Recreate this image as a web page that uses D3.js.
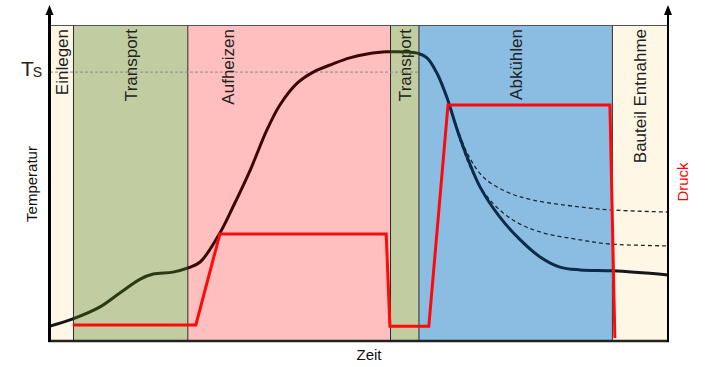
<!DOCTYPE html>
<html>
<head>
<meta charset="utf-8">
<script src="https://cdn.jsdelivr.net/npm/d3@7/dist/d3.min.js"></script>
<style>
  html, body { margin: 0; padding: 0; background: #fff; }
  svg { display: block; font-family: "Liberation Sans", Arial, sans-serif; }
</style>
</head>
<body>
<svg id="chart" width="707" height="367"></svg>
<script>
// ---------- DATA (time and values in arbitrary units 0..100) ----------
const phaseNames  = ["Einlegen", "Transport", "Aufheizen", "Transport", "Abkühlen", "Bauteil Entnahme"];
const phaseStart  = [0, 3.8, 22.3, 55.1, 59.7, 91.0];
const phaseEnd    = [3.8, 22.3, 55.1, 59.7, 91.0, 100];

const tempTime  = [0, 3.7, 8.1, 11.3, 14.6, 16.7, 19.9, 22.3, 24.3, 27.5, 29.6, 32.4, 35.1, 37.2, 40.0, 42.6, 45.8, 48.5, 51.3, 54.5, 59.4, 61.0, 62.6, 64.2, 65.9, 67.5, 69.6, 72.8, 76.1, 79.3, 82.5, 85.8, 91.1, 100];
const tempValue = [4.7, 7.0, 10.8, 15.2, 19.6, 21.2, 21.8, 23.1, 25.0, 34.2, 42.4, 54.1, 66.8, 74.7, 81.6, 85.1, 87.7, 89.6, 90.8, 91.5, 91.1, 89.6, 84.8, 77.2, 66.8, 58.2, 48.7, 39.2, 32.0, 26.6, 23.4, 22.5, 22.2, 20.9];

const altUpperTime  = [65.5, 67.5, 70.1, 73.9, 78.2, 85.8, 90.6, 100];
const altUpperValue = [69.6, 59.5, 51.9, 47.2, 44.6, 42.4, 41.5, 40.8];
const altLowerTime  = [65.9, 68.4, 71.2, 74.9, 79.3, 85.8, 90.6, 100];
const altLowerValue = [66.1, 53.2, 44.6, 38.3, 34.5, 32.0, 30.7, 30.1];

const pressTime  = [3.7, 23.6, 27.5, 54.4, 55.0, 61.3, 64.4, 90.6, 91.4];
const pressValue = [5.1, 5.1, 33.9, 33.9, 4.7, 4.7, 74.7, 74.7, 0.9];

const tsValue = 85.1;
const labels = { x: "Zeit", y: "Temperatur", y2: "Druck", ts: "T", tsSub: "S" };

// ---------- LAYOUT / STYLE ----------
const phaseFill  = ["#fff7e6", "#c1cda0", "#ffbfbf", "#c1cda0", "#8bbde3", "#fff7e6"];
const curveColor = ["#161616", "#2a3a12", "#3c0606", "#2a3a12", "#0a2b4a", "#161616"];
const labelT     = [null, null, 28.8, null, null, null]; // custom label positions
const plot = { left: 50, right: 668, top: 25, bottom: 341 };

const svg = d3.select("#chart");
const x = d3.scaleLinear().domain([0, 100]).range([plot.left, plot.right]);
const y = d3.scaleLinear().domain([0, 100]).range([plot.bottom, plot.top]);
const yP = d3.scaleLinear().domain([0, 100]).range([plot.bottom, plot.top]);

// phase bands
const phases = phaseNames.map((n, i) => ({ name: n, s: phaseStart[i], e: phaseEnd[i], i }));
svg.append("g").selectAll("rect").data(phases).join("rect")
  .attr("x", d => x(d.s)).attr("y", plot.top)
  .attr("width", d => x(d.e) - x(d.s)).attr("height", plot.bottom - plot.top)
  .attr("fill", d => phaseFill[d.i]);

// band separators
svg.append("g").selectAll("line").data(phaseStart.slice(1)).join("line")
  .attr("x1", d => x(d)).attr("x2", d => x(d))
  .attr("y1", plot.top).attr("y2", plot.bottom)
  .attr("stroke", "#2b2b2b").attr("stroke-width", 1);

// top border
svg.append("line").attr("x1", plot.left).attr("x2", plot.right)
  .attr("y1", plot.top + 0.5).attr("y2", plot.top + 0.5)
  .attr("stroke", "#555").attr("stroke-width", 1);

// Ts dashed reference line
svg.append("line").attr("x1", x(0)).attr("x2", x(phaseEnd[3]))
  .attr("y1", y(tsValue)).attr("y2", y(tsValue))
  .attr("stroke", "#8a8a8a").attr("stroke-width", 1).attr("stroke-dasharray", "3,2");

// phase labels
svg.append("g").selectAll("text").data(phases).join("text")
  .attr("transform", d => {
    const cx = labelT[d.i] != null ? x(labelT[d.i]) : (x(d.s) + x(d.e)) / 2;
    return `translate(${cx},${plot.top + 4}) rotate(-90)`;
  })
  .attr("text-anchor", "end").attr("dy", "0.35em")
  .attr("font-size", 17).attr("fill", "#222")
  .text(d => d.name);

// defs & clip paths per band
const defs = svg.append("defs");
phases.forEach(d => {
  defs.append("clipPath").attr("id", "clip" + d.i)
    .append("rect").attr("x", x(d.s)).attr("y", 0)
    .attr("width", x(d.e) - x(d.s)).attr("height", 367);
});

// alternative cooling curves (dashed)
const lineGen = d3.line().x(d => x(d[0])).y(d => y(d[1])).curve(d3.curveCatmullRom.alpha(0.5));
[[altUpperTime, altUpperValue], [altLowerTime, altLowerValue]].forEach(([t, v]) => {
  svg.append("path").datum(t.map((tt, i) => [tt, v[i]]))
    .attr("d", lineGen).attr("fill", "none")
    .attr("stroke", "#1e2a33").attr("stroke-width", 1.3)
    .attr("stroke-dasharray", "4,3");
});

// temperature curve, colored per phase
const tempData = tempTime.map((t, i) => [t, tempValue[i]]);
phases.forEach(d => {
  svg.append("path").datum(tempData)
    .attr("clip-path", `url(#clip${d.i})`)
    .attr("d", lineGen).attr("fill", "none")
    .attr("stroke", curveColor[d.i]).attr("stroke-width", 3)
    .attr("stroke-linejoin", "round");
});

// pressure curve
const pLine = d3.line().x(d => x(d[0])).y(d => yP(d[1]));
svg.append("path").datum(pressTime.map((t, i) => [t, pressValue[i]]))
  .attr("d", pLine).attr("fill", "none")
  .attr("stroke", "#ff0a0a").attr("stroke-width", 3)
  .attr("stroke-linejoin", "miter");

// axes
const xAxis = d3.axisBottom(x).tickValues([]).tickSizeOuter(0);
const gx = svg.append("g").attr("transform", `translate(0,${plot.bottom})`).call(xAxis);
gx.select(".domain").attr("stroke", "#222").attr("stroke-width", 2.5)
  .attr("d", `M${plot.left - 1.5},0H${plot.right + 1}`);

const yAxis = d3.axisLeft(y).tickValues([]).tickSizeOuter(0);
const gy = svg.append("g").attr("transform", `translate(${plot.left - 0.5},0)`).call(yAxis);
gy.select(".domain").attr("stroke", "#000").attr("stroke-width", 3)
  .attr("d", `M0,${plot.bottom + 1}V10`);

const yAxis2 = d3.axisRight(yP).tickValues([]).tickSizeOuter(0);
const gy2 = svg.append("g").attr("transform", `translate(${plot.right},0)`).call(yAxis2);
gy2.select(".domain").attr("stroke", "#000").attr("stroke-width", 2)
  .attr("d", `M0,${plot.bottom + 1}V10`);

// arrowheads
[[plot.left - 0.5, 5], [plot.right, 5]].forEach(([ax, ay]) => {
  svg.append("path").attr("d", `M${ax},${ay}L${ax - 4},${ay + 10}L${ax + 4},${ay + 10}Z`).attr("fill", "#000");
});

// axis labels
svg.append("text").attr("x", 369).attr("y", 360).attr("text-anchor", "middle")
  .attr("font-size", 15).attr("fill", "#111").text(labels.x);
svg.append("text").attr("transform", `translate(37,184) rotate(-90)`)
  .attr("text-anchor", "middle").attr("font-size", 15).attr("fill", "#111").text(labels.y);
svg.append("text").attr("transform", `translate(688,182) rotate(-90)`)
  .attr("text-anchor", "middle").attr("font-size", 15).attr("fill", "#ff0000").text(labels.y2);

const ts = svg.append("text").attr("x", 21).attr("y", y(tsValue) + 3.5).attr("fill", "#222");
ts.append("tspan").attr("font-size", 21).text(labels.ts);
ts.append("tspan").attr("font-size", 14).attr("dx", -1).attr("dy", 1.5).text(labels.tsSub);
</script>
</body>
</html>
